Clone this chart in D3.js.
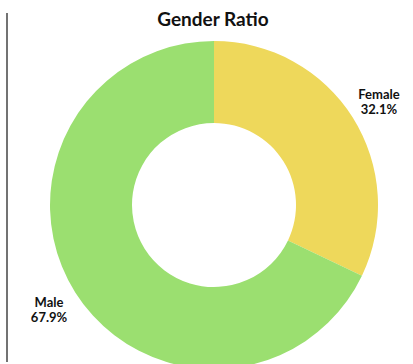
<!DOCTYPE html>
<html>
<head>
<meta charset="utf-8">
<script src="https://cdn.jsdelivr.net/npm/d3@7"></script>
<style>
  html, body { margin: 0; padding: 0; background: #fff; }
  svg { display: block; }
  text { font-family: Lato, "Open Sans", sans-serif; fill: #111; }
</style>
</head>
<body>
<svg id="chart" width="413" height="364"></svg>
<script>
// Gender split of the population (percent)
const categories = ["Female", "Male"];
const shares = [32.1, 67.9];
const colors = ["#eed85b", "#9bdf70"];
const title = "Gender Ratio";

const width = 413, height = 364;
const cx = 214, cy = 205;
const outerR = 164, innerR = 82, labelR = 195;

const svg = d3.select("#chart");

// left rule
svg.append("line")
  .attr("x1", 7).attr("x2", 7)
  .attr("y1", 13).attr("y2", 362)
  .attr("stroke", "#444").attr("stroke-width", 1.5);

svg.append("text")
  .attr("x", 213).attr("y", 26)
  .attr("text-anchor", "middle")
  .attr("font-size", 19)
  .attr("font-weight", 700)
  .text(title);

const data = categories.map((c, i) => ({ name: c, value: shares[i], color: colors[i] }));

const pie = d3.pie().value(d => d.value).sort(null);
const arc = d3.arc().innerRadius(innerR).outerRadius(outerR);
const labelArc = d3.arc().innerRadius(labelR).outerRadius(labelR);

const g = svg.append("g").attr("transform", `translate(${cx},${cy})`);
const arcs = pie(data);

g.selectAll("path.slice")
  .data(arcs)
  .join("path")
  .attr("class", "slice")
  .attr("d", arc)
  .attr("fill", d => d.data.color);

const labels = g.selectAll("text.label")
  .data(arcs)
  .join("text")
  .attr("class", "label")
  .attr("text-anchor", "middle")
  .attr("font-size", 13)
  .attr("font-weight", 700)
  .attr("transform", d => {
    const [x, y] = labelArc.centroid(d);
    return `translate(${x},${y})`;
  });

labels.append("tspan").attr("x", 0).attr("y", -2).text(d => d.data.name);
labels.append("tspan").attr("x", 0).attr("y", 13).text(d => d.data.value.toFixed(1) + "%");
</script>
</body>
</html>
